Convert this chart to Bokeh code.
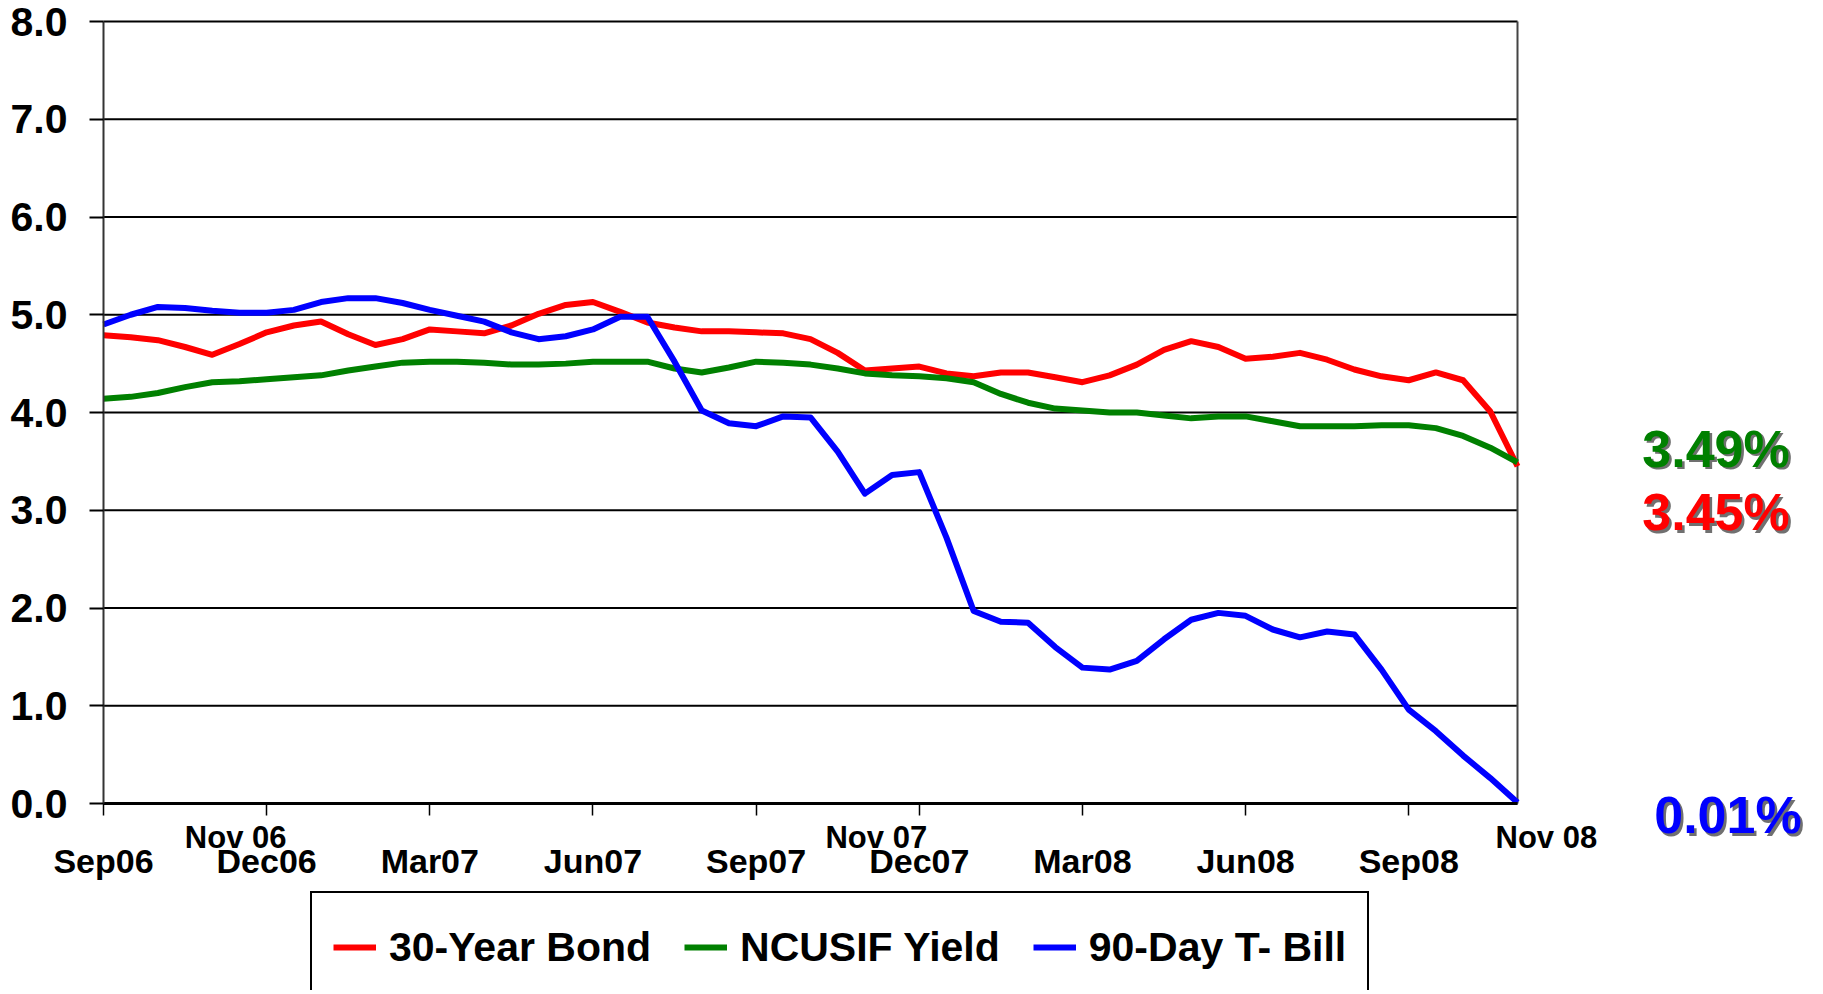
from bokeh.plotting import figure
from bokeh.models import Range1d, FixedTicker, Label, Legend, LegendItem
from bokeh.embed import file_html
from bokeh.resources import INLINE

# ---- data (semi-monthly readings, Sep 2006 .. Nov 2008) ----
x_months = [i * 0.5 for i in range(53)]

bond_30yr = [4.79, 4.77, 4.74, 4.67, 4.59, 4.70, 4.82, 4.89, 4.93, 4.80,
             4.69, 4.75, 4.85, 4.83, 4.81, 4.89, 5.01, 5.10, 5.13, 5.03,
             4.92, 4.87, 4.83, 4.83, 4.82, 4.81, 4.75, 4.61, 4.43, 4.45,
             4.47, 4.40, 4.37, 4.41, 4.41, 4.36, 4.31, 4.38, 4.49, 4.64,
             4.73, 4.67, 4.55, 4.57, 4.61, 4.54, 4.44, 4.37, 4.33, 4.41,
             4.33, 4.01, 3.45]

ncusif_yield = [4.14, 4.16, 4.20, 4.26, 4.31, 4.32, 4.34, 4.36, 4.38, 4.43,
                4.47, 4.51, 4.52, 4.52, 4.51, 4.49, 4.49, 4.50, 4.52, 4.52,
                4.52, 4.45, 4.41, 4.46, 4.52, 4.51, 4.49, 4.45, 4.40, 4.38,
                4.37, 4.35, 4.31, 4.19, 4.10, 4.04, 4.02, 4.00, 4.00, 3.97,
                3.94, 3.96, 3.96, 3.91, 3.86, 3.86, 3.86, 3.87, 3.87, 3.84,
                3.76, 3.64, 3.49]

tbill_90day = [4.90, 5.00, 5.08, 5.07, 5.04, 5.02, 5.02, 5.05, 5.13, 5.17,
               5.17, 5.12, 5.05, 4.99, 4.93, 4.82, 4.75, 4.78, 4.85, 4.98,
               4.98, 4.52, 4.02, 3.89, 3.86, 3.96, 3.95, 3.60, 3.17, 3.36,
               3.39, 2.72, 1.97, 1.86, 1.85, 1.60, 1.39, 1.37, 1.46, 1.68,
               1.88, 1.95, 1.92, 1.78, 1.70, 1.76, 1.73, 1.37, 0.96, 0.74,
               0.49, 0.26, 0.01]

series_names = ["30-Year Bond", "NCUSIF Yield", "90-Day T- Bill"]
series_colors = ["#FF0000", "#008000", "#0000FF"]

x_tick_months = [0, 3, 6, 9, 12, 15, 18, 21, 24]
x_tick_labels = ["Sep06", "Dec06", "Mar07", "Jun07", "Sep07", "Dec07",
                 "Mar08", "Jun08", "Sep08"]
extra_x_labels = ["Nov 06", "Nov 07", "Nov 08"]
y_ticks = [0, 1, 2, 3, 4, 5, 6, 7, 8]
y_tick_labels = ["0.0", "1.0", "2.0", "3.0", "4.0", "5.0", "6.0", "7.0", "8.0"]

X_END = 26
Y_END = 8

FONT = "Liberation Sans"
W, H = 1815, 990
# pixel layout of the plotting area
LEFT, RIGHT, TOP, BOTTOM = 103, 1517, 21, 803
px_per_x = (RIGHT - LEFT) / X_END
px_per_y = (BOTTOM - TOP) / Y_END

p = figure(width=W, height=H, output_backend="svg", toolbar_location=None,
           x_range=Range1d(-LEFT / px_per_x, (W - LEFT) / px_per_x),
           y_range=Range1d(-(H - BOTTOM) / px_per_y, Y_END + TOP / px_per_y),
           min_border_left=0, min_border_right=0,
           min_border_top=0, min_border_bottom=0)
p.background_fill_color = "white"
p.border_fill_color = "white"
p.outline_line_color = None
p.xgrid.visible = False
p.ygrid.visible = False

# horizontal grid lines and right border of the plot area
p.segment(x0=[0] * len(y_ticks), x1=[X_END] * len(y_ticks), y0=y_ticks, y1=y_ticks,
          line_color="black", line_width=2)
p.segment(x0=[X_END], x1=[X_END], y0=[0], y1=[Y_END],
          line_color="#444444", line_width=2)

renderers = []
for ys, c in zip([bond_30yr, ncusif_yield, tbill_90day], series_colors):
    r = p.line(x_months, ys, line_color=c, line_width=6, line_join="round")
    renderers.append(r)

# axes (anchored at the data origin)
p.xaxis.fixed_location = 0
p.xaxis.bounds = (0, X_END)
p.xaxis.ticker = FixedTicker(ticks=x_tick_months)
p.xaxis.major_label_overrides = {m: l for m, l in zip(x_tick_months, x_tick_labels)}
p.xaxis.major_label_text_font = FONT
p.xaxis.major_label_text_font_style = "bold"
p.xaxis.major_label_text_font_size = "34px"
p.xaxis.major_label_text_color = "black"
p.xaxis.major_label_standoff = 26
p.xaxis.axis_line_color = "black"
p.xaxis.axis_line_width = 3
p.xaxis.major_tick_out = 12
p.xaxis.major_tick_in = 0
p.xaxis.major_tick_line_color = "black"
p.xaxis.major_tick_line_width = 1.5
p.xaxis.minor_tick_line_color = None

p.yaxis.fixed_location = 0
p.yaxis.bounds = (0, Y_END)
p.yaxis.ticker = FixedTicker(ticks=y_ticks)
p.yaxis.major_label_overrides = {t: l for t, l in zip(y_ticks, y_tick_labels)}
p.yaxis.major_label_text_font = FONT
p.yaxis.major_label_text_font_style = "bold"
p.yaxis.major_label_text_font_size = "41px"
p.yaxis.major_label_text_color = "black"
p.yaxis.major_label_standoff = 22
p.yaxis.axis_line_color = "#333333"
p.yaxis.axis_line_width = 2
p.yaxis.major_tick_out = 14
p.yaxis.major_tick_in = 0
p.yaxis.major_tick_line_color = "black"
p.yaxis.major_tick_line_width = 2
p.yaxis.minor_tick_line_color = None

# extra "Nov" labels under the axis
for lbl, xm in zip(extra_x_labels, [2.43, 14.21, 26.53]):
    p.add_layout(Label(x=xm, y=-0.35, text=lbl, text_font=FONT,
                       text_font_style="bold", text_font_size="31px",
                       text_color="black", text_align="center",
                       text_baseline="middle"))

# end-value annotations with shadow
end_vals = [ncusif_yield[-1], bond_30yr[-1], tbill_90day[-1]]
end_cols = [series_colors[1], series_colors[0], series_colors[2]]
end_pos = [(29.65, 3.63), (29.65, 2.98), (29.87, -0.12)]
for v, c, (xx, yy) in zip(end_vals, end_cols, end_pos):
    txt = f"{v:.2f}%"
    p.add_layout(Label(x=xx, y=yy, text=txt, text_font=FONT,
                       text_font_style="bold", text_font_size="52px",
                       text_color="#333333", text_alpha=0.7,
                       text_align="center", text_baseline="middle",
                       x_offset=2.5, y_offset=-2.5))
    p.add_layout(Label(x=xx, y=yy, text=txt, text_font=FONT,
                       text_font_style="bold", text_font_size="52px",
                       text_color=c, text_align="center",
                       text_baseline="middle"))

legend = Legend(items=[LegendItem(label=n, renderers=[r])
                       for n, r in zip(series_names, renderers)],
                orientation="horizontal", location=(310, -13),
                border_line_color="black", border_line_width=2,
                border_line_alpha=1.0,
                background_fill_color="white", background_fill_alpha=1,
                label_text_font=FONT, label_text_font_style="bold",
                label_text_font_size="41px", label_text_color="black",
                glyph_width=43, glyph_height=66, label_height=66,
                label_standoff=13, spacing=33, padding=21, margin=0)
p.add_layout(legend)

open("out.html", "w").write(file_html(p, INLINE))
